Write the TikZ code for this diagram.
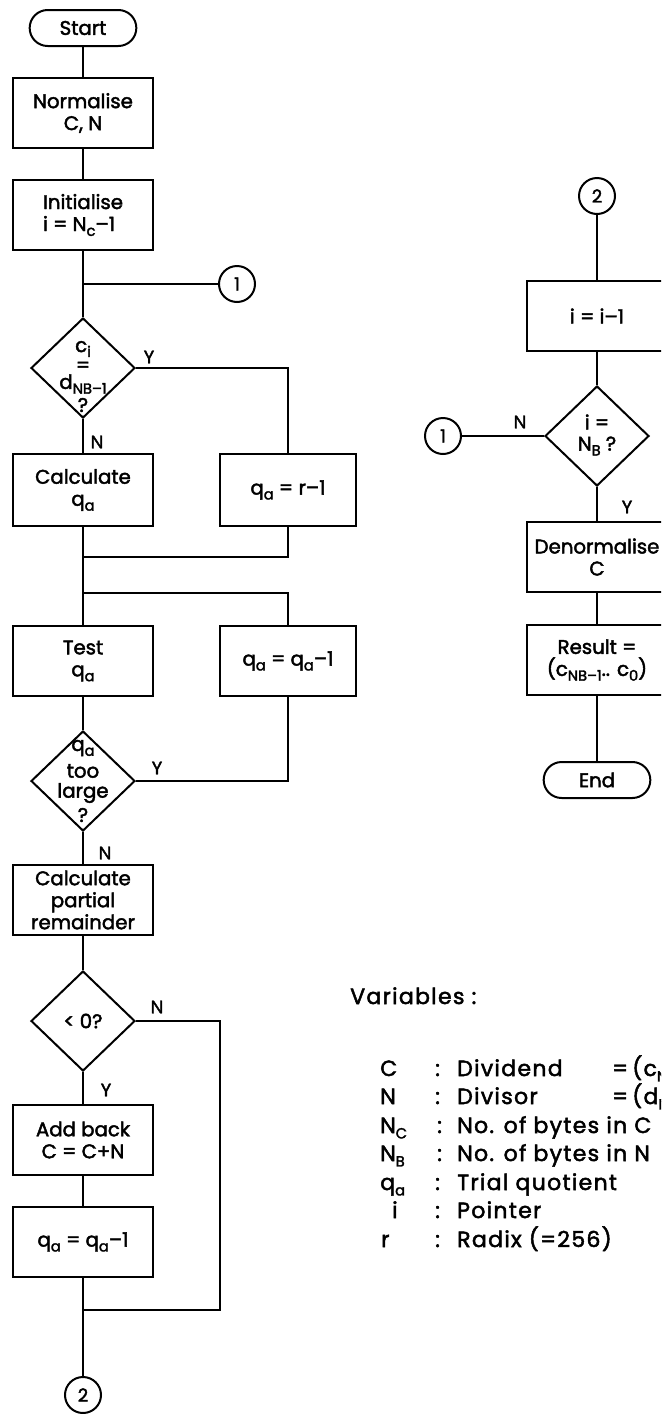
\documentclass[tikz,border=0pt]{standalone}
\usepackage{fontspec}
\setmainfont{Poppins}[FakeBold=2.2]
\newfontfamily\legendfam{Poppins}[FakeBold=2.2, LetterSpace=6]
\usetikzlibrary{shapes.geometric}
\newcommand\boxfont{\fontsize{14.8}{16.5}\selectfont}
\newcommand\lblfont{\fontsize{13.5}{13.5}\selectfont}
\newcommand\varfont{\legendfam\fontsize{16.5}{17}\selectfont}
\newcommand\subx[1]{\raisebox{-0.45ex}{\fontsize{11}{11}\selectfont #1}}
\tikzset{
  wire/.style={line width=1.5pt},
  proc/.style={draw, line width=1.5pt, minimum width=105pt, minimum height=52pt,
               inner sep=2pt, align=center, font=\boxfont},
  decide/.style={draw, diamond, line width=1.5pt, minimum width=78pt,
                 minimum height=75pt, inner sep=0pt},
  dtext/.style={font=\boxfont, inner sep=0pt},
  term/.style={draw, line width=1.5pt, rounded corners=13.5pt, minimum width=80pt,
               minimum height=27pt, font=\boxfont},
  conn/.style={draw, circle, line width=1.5pt, minimum size=27pt, inner sep=0pt,
               font=\lblfont},
  yn/.style={font=\lblfont, inner sep=0pt},
  vt/.style={font=\varfont, anchor=base west, inner sep=0pt},
}
\begin{document}
\begin{tikzpicture}[x=0.75pt, y=-0.75pt]
\useasboundingbox (0,0) rectangle (661,1414);
\clip (0,0) rectangle (661,1414);

% ---------- main column ----------
\node[term] (start) at (83,28) {Start};
\node[proc] (norm) at (83,113) {Normalise\\C, N};
\node[proc, align=left] (init) at (83,215) {Initialise\\i = N\subx{c}–1};
\coordinate (j1) at (83,284);
\node[conn] (c1a) at (237,284) {1};

\node[decide] (d1) at (83,368) {};
\node[dtext] (d1a) at (83,349) {c\subx{i}};
\node[dtext] (d1b) at (83,367) {=};
\node[dtext] (d1c) at (83,384) {d\subx{NB–1}};
\node[dtext] (d1d) at (83,405) {?};

\node[proc, minimum height=54pt] (calcq) at (83,490) {Calculate\\q\subx{a}};
\node[proc, minimum width=102pt, minimum height=54pt] (rbox) at (288,490) {q\subx{a} = r–1};
\coordinate (j2) at (83,557);
\coordinate (j3) at (83,593);

\node[proc] (test) at (83,661) {Test\\q\subx{a}};
\node[proc, minimum width=102pt] (qdec1) at (288,661) {q\subx{a} = q\subx{a}–1};

\node[decide] (d2) at (83,781) {};
\node[dtext] (d2a) at (83,748) {q\subx{a}};
\node[dtext] (d2b) at (83,771) {too};
\node[dtext] (d2c) at (83,793) {large};
\node[dtext] (d2d) at (83,815) {?};

\node[proc] (part) at (83,900) {Calculate\\partial\\remainder};

\node[decide] (d3) at (83,1021) {};
\node[dtext] (d3a) at (83,1021) {< 0?};
\coordinate (k3) at (220,1310);

\node[proc] (add) at (83,1140) {Add back\\C = C+N};
\node[proc] (qdec2) at (83,1242) {q\subx{a} = q\subx{a}–1};
\coordinate (j4) at (83,1310);
\node[conn] (c2a) at (83,1395) {2};

% ---------- continuation column ----------
\node[conn] (c2b) at (597,196) {2};
\node[proc] (idec) at (597,316) {i = i–1};
\node[decide] (d4) at (597,436) {};
\node[dtext] (d4a) at (597,422) {i =};
\node[dtext] (d4b) at (597,446) {N\subx{B} ?};
\node[conn] (c1b) at (443,436) {1};
\node[proc] (denorm) at (597,557) {Denormalise\\C};
\node[proc] (result) at (597,660) {Result =\\(c\subx{NB–1}.. c\subx{0})};
\node[term] (end) at (597,780) {End};

% ---------- connectors ----------
\draw[wire] (start) -- (norm);
\draw[wire] (norm) -- (init);
\draw[wire] (init.south) -- (j1) -- (d1.north);
\draw[wire] (j1) -- (c1a.west);
\draw[wire] (d1.east) -| (rbox.north);
\draw[wire] (d1.south) -- (calcq.north);
\draw[wire] (calcq.south) -- (j3) -- (test.north);
\draw[wire] (rbox.south) |- (j2);
\draw[wire] (j3) -| (qdec1.north);
\draw[wire] (test) -- (d2);
\draw[wire] (d2.east) -| (qdec1.south);
\draw[wire] (d2.south) -- (part.north);
\draw[wire] (part) -- (d3);
\draw[wire] (d3.east) -| (k3) -- (j4);
\draw[wire] (d3.south) -- (add.north);
\draw[wire] (add) -- (qdec2);
\draw[wire] (qdec2.south) -- (j4) -- (c2a.north);

\draw[wire] (c2b) -- (idec);
\draw[wire] (idec) -- (d4);
\draw[wire] (d4.west) -- (c1b.east);
\draw[wire] (d4.south) -- (denorm.north);
\draw[wire] (denorm) -- (result);
\draw[wire] (result) -- (end);

% ---------- branch labels ----------
\node[yn] (y1) at (149,357) {Y};
\node[yn] (n1) at (97,442) {N};
\node[yn] (y2) at (157,768) {Y};
\node[yn] (n2) at (105,853) {N};
\node[yn] (n3) at (157,1007) {N};
\node[yn] (y3) at (106,1090) {Y};
\node[yn] (n4) at (520,422) {N};
\node[yn] (y4) at (627,507) {Y};

% ---------- legend ----------
\node[vt] (vtitle) at (350,1004) {Variables :};

\node[vt] (s1) at (380,1076) {C};
\node[vt] (p1) at (435,1076) {:};
\node[vt] (t1) at (457,1076) {Dividend};
\node[vt] (e1) at (612,1076) {=};
\node[vt] (v1) at (632,1076) {(c\subx{NC–1}.. c\subx{0})};

\node[vt] (s2) at (380,1104) {N};
\node[vt] (p2) at (435,1104) {:};
\node[vt] (t2) at (457,1104) {Divisor};
\node[vt] (e2) at (612,1104) {=};
\node[vt] (v2) at (632,1104) {(d\subx{NB–1}.. d\subx{0})};

\node[vt] (s3) at (380,1133) {N\subx{C}};
\node[vt] (p3) at (437,1133) {:};
\node[vt] (t3) at (457,1133) {No. of bytes in C};

\node[vt] (s4) at (380,1161) {N\subx{B}};
\node[vt] (p4) at (437,1161) {:};
\node[vt] (t4) at (457,1161) {No. of bytes in N};

\node[vt] (s5) at (380,1190) {q\subx{a}};
\node[vt] (p5) at (435,1190) {:};
\node[vt] (t5) at (457,1190) {Trial quotient};

\node[vt] (s6) at (392,1218) {i};
\node[vt] (p6) at (435,1218) {:};
\node[vt] (t6) at (457,1218) {Pointer};

\node[vt] (s7) at (381,1247) {r};
\node[vt] (p7) at (435,1247) {:};
\node[vt] (t7) at (457,1247) {Radix (=256)};
\end{tikzpicture}
\end{document}
